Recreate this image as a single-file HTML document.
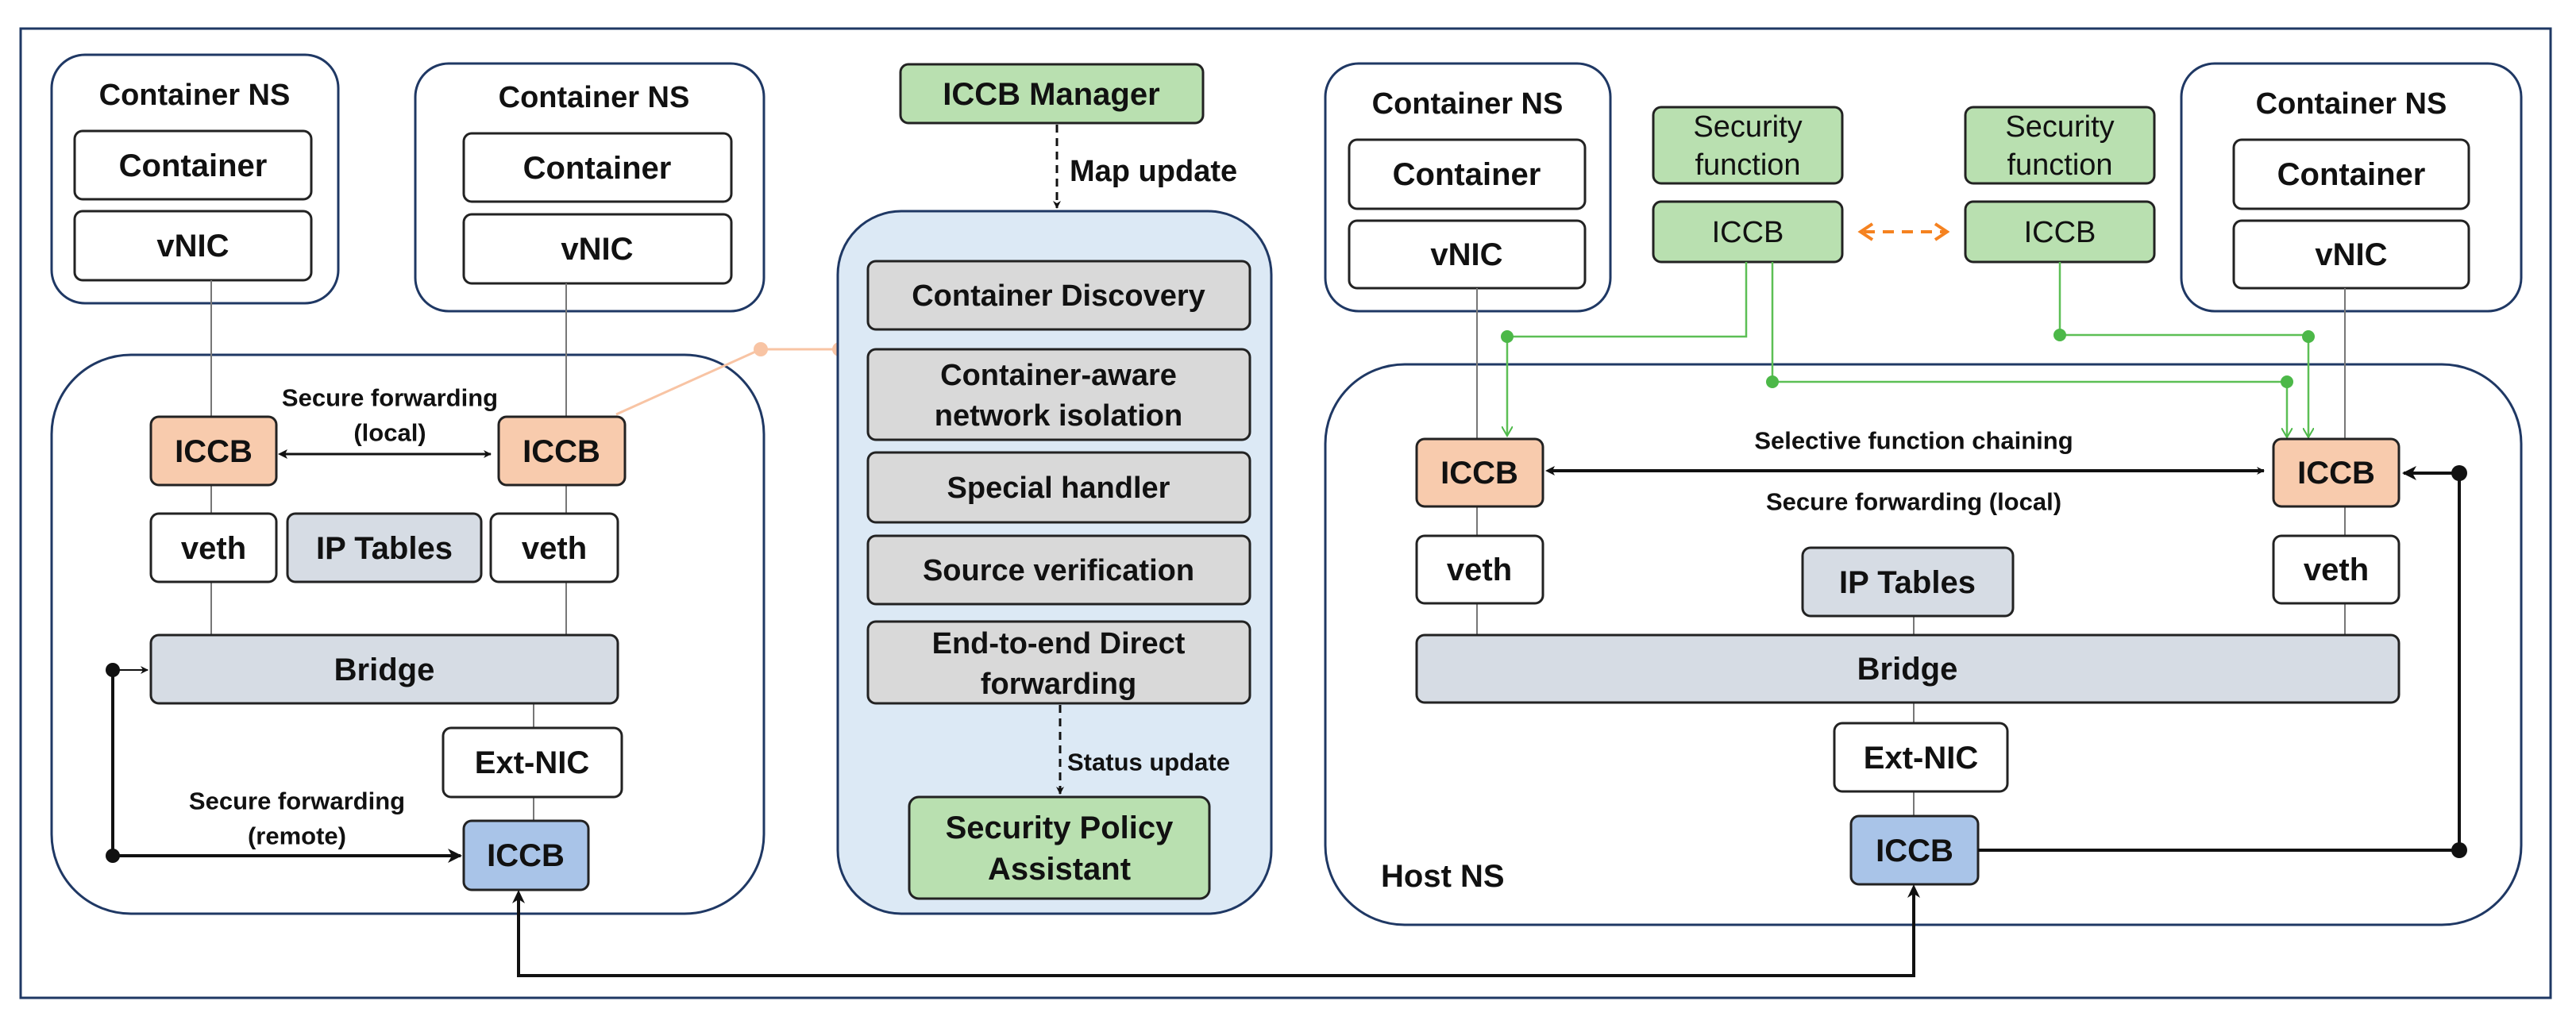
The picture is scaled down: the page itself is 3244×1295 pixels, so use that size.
<!DOCTYPE html>
<html><head><meta charset="utf-8"><style>
html,body{margin:0;padding:0;background:#fff;}
svg{display:block;}
text{font-family:"Liberation Sans","DejaVu Sans",sans-serif;text-anchor:middle;dominant-baseline:central;fill:#111;}
.b{font-weight:bold;}
</style></head><body>
<svg width="3244" height="1295" viewBox="0 0 3244 1295" xmlns="http://www.w3.org/2000/svg">
<defs>
<marker id="ak" markerWidth="10" markerHeight="10" refX="9" refY="5" orient="auto" markerUnits="userSpaceOnUse"><path d="M0,0 L10,5 L0,10 L3,5 z" fill="#111"/></marker>
<marker id="ak2" markerWidth="18" markerHeight="18" refX="16" refY="9" orient="auto" markerUnits="userSpaceOnUse"><path d="M0,0 L18,9 L0,18 L5,9 z" fill="#111"/></marker>
<marker id="ag" markerWidth="14" markerHeight="14" refX="12" refY="7" orient="auto" markerUnits="userSpaceOnUse"><path d="M0,0 L12,7 L0,14" fill="none" stroke="#4cb848" stroke-width="2"/></marker>
<marker id="ao" markerWidth="20" markerHeight="24" refX="17" refY="12" orient="auto" markerUnits="userSpaceOnUse"><path d="M2,2 L17,12 L2,22" fill="none" stroke="#f58220" stroke-width="4"/></marker>
</defs>
<rect x="26" y="36" width="3186" height="1221" fill="none" stroke="#1f3864" stroke-width="3"/>

<rect x="65" y="69" width="361" height="313" rx="42" fill="#fff" stroke="#1f3864" stroke-width="3"/>
<text x="245" y="120" class="b" font-size="38">Container NS</text>
<rect x="94" y="165" width="298" height="86" rx="10" fill="#fff" stroke="#222" stroke-width="3"/>
<text x="243" y="209" class="b" font-size="40">Container</text>
<rect x="94" y="266" width="298" height="87" rx="10" fill="#fff" stroke="#222" stroke-width="3"/>
<text x="243" y="310" class="b" font-size="40">vNIC</text>

<rect x="523" y="80" width="439" height="312" rx="42" fill="#fff" stroke="#1f3864" stroke-width="3"/>
<text x="748" y="123" class="b" font-size="38">Container NS</text>
<rect x="584" y="168" width="337" height="86" rx="10" fill="#fff" stroke="#222" stroke-width="3"/>
<text x="752" y="212" class="b" font-size="40">Container</text>
<rect x="584" y="270" width="337" height="87" rx="10" fill="#fff" stroke="#222" stroke-width="3"/>
<text x="752" y="314" class="b" font-size="40">vNIC</text>

<rect x="65" y="447" width="897" height="704" rx="100" fill="#fff" stroke="#1f3864" stroke-width="3"/>
<line x1="266" y1="353" x2="266" y2="800" stroke="#777" stroke-width="2"/>
<line x1="713" y1="357" x2="713" y2="800" stroke="#777" stroke-width="2"/>
<line x1="672" y1="886" x2="672" y2="1034" stroke="#777" stroke-width="2"/>

<rect x="190" y="525" width="158" height="86" rx="10" fill="#f8cbad" stroke="#222" stroke-width="3"/>
<text x="269" y="569" class="b" font-size="40">ICCB</text>
<rect x="628" y="525" width="159" height="86" rx="10" fill="#f8cbad" stroke="#222" stroke-width="3"/>
<text x="707" y="569" class="b" font-size="40">ICCB</text>
<text x="491" y="501" class="b" font-size="31">Secure forwarding</text>
<text x="491" y="545" class="b" font-size="31">(local)</text>
<line x1="358" y1="572" x2="618" y2="572" stroke="#111" stroke-width="3" marker-end="url(#ak)"/>
<path d="M350,572 L362,566 L359,572 L362,578z" fill="#111"/>

<rect x="190" y="647" width="158" height="86" rx="10" fill="#fff" stroke="#222" stroke-width="3"/>
<text x="269" y="691" class="b" font-size="40">veth</text>
<rect x="362" y="647" width="244" height="86" rx="10" fill="#d6dce4" stroke="#222" stroke-width="3"/>
<text x="484" y="691" class="b" font-size="40">IP Tables</text>
<rect x="618" y="647" width="160" height="86" rx="10" fill="#fff" stroke="#222" stroke-width="3"/>
<text x="698" y="691" class="b" font-size="40">veth</text>

<rect x="190" y="800" width="588" height="86" rx="10" fill="#d6dce4" stroke="#222" stroke-width="3"/>
<text x="484" y="844" class="b" font-size="40">Bridge</text>
<rect x="558" y="917" width="225" height="87" rx="10" fill="#fff" stroke="#222" stroke-width="3"/>
<text x="670" y="961" class="b" font-size="40">Ext-NIC</text>
<rect x="584" y="1034" width="157" height="87" rx="10" fill="#a9c4e8" stroke="#222" stroke-width="3"/>
<text x="662" y="1078" class="b" font-size="40">ICCB</text>

<text x="374" y="1009" class="b" font-size="31">Secure forwarding</text>
<text x="374" y="1053" class="b" font-size="31">(remote)</text>
<polyline points="142,844 142,1078 580,1078" fill="none" stroke="#111" stroke-width="4" marker-end="url(#ak2)"/>
<line x1="142" y1="844" x2="186" y2="844" stroke="#111" stroke-width="2" marker-end="url(#ak)"/>
<circle cx="142" cy="844" r="9" fill="#111"/>
<circle cx="142" cy="1078" r="9" fill="#111"/>

<polyline points="776,522 958,440 1057,440" fill="none" stroke="#f8c4a4" stroke-width="3"/>
<circle cx="958" cy="440" r="9" fill="#f8c4a4"/>
<circle cx="1057" cy="440" r="9" fill="#f8c4a4"/>

<rect x="1134" y="81" width="381" height="74" rx="10" fill="#b9e0b0" stroke="#222" stroke-width="3"/>
<text x="1324" y="119" class="b" font-size="40">ICCB Manager</text>
<line x1="1331" y1="157" x2="1331" y2="262" stroke="#111" stroke-width="3" stroke-dasharray="10,7" marker-end="url(#ak)"/>
<text x="1347" y="216" class="b" font-size="38" style="text-anchor:start">Map update</text>

<rect x="1055" y="266" width="546" height="885" rx="80" fill="#dce9f5" stroke="#1f3864" stroke-width="3"/>
<rect x="1093" y="329" width="481" height="86" rx="10" fill="#d9d9d9" stroke="#222" stroke-width="3"/>
<text x="1333" y="373" class="b" font-size="38">Container Discovery</text>
<rect x="1093" y="440" width="481" height="114" rx="10" fill="#d9d9d9" stroke="#222" stroke-width="3"/>
<text x="1333" y="473" class="b" font-size="38">Container-aware</text>
<text x="1333" y="524" class="b" font-size="38">network isolation</text>
<rect x="1093" y="570" width="481" height="88" rx="10" fill="#d9d9d9" stroke="#222" stroke-width="3"/>
<text x="1333" y="615" class="b" font-size="38">Special handler</text>
<rect x="1093" y="675" width="481" height="86" rx="10" fill="#d9d9d9" stroke="#222" stroke-width="3"/>
<text x="1333" y="719" class="b" font-size="38">Source verification</text>
<rect x="1093" y="783" width="481" height="103" rx="10" fill="#d9d9d9" stroke="#222" stroke-width="3"/>
<text x="1333" y="811" class="b" font-size="38">End-to-end Direct</text>
<text x="1333" y="862" class="b" font-size="38">forwarding</text>
<line x1="1335" y1="888" x2="1335" y2="1000" stroke="#111" stroke-width="3" stroke-dasharray="10,7" marker-end="url(#ak)"/>
<text x="1344" y="960" class="b" font-size="31" style="text-anchor:start">Status update</text>
<rect x="1145" y="1004" width="378" height="128" rx="12" fill="#b9e0b0" stroke="#222" stroke-width="3"/>
<text x="1334" y="1043" class="b" font-size="40">Security Policy</text>
<text x="1334" y="1095" class="b" font-size="40">Assistant</text>

<rect x="1669" y="80" width="359" height="312" rx="42" fill="#fff" stroke="#1f3864" stroke-width="3"/>
<text x="1848" y="131" class="b" font-size="38">Container NS</text>
<rect x="1699" y="176" width="297" height="87" rx="10" fill="#fff" stroke="#222" stroke-width="3"/>
<text x="1847" y="220" class="b" font-size="40">Container</text>
<rect x="1699" y="278" width="297" height="85" rx="10" fill="#fff" stroke="#222" stroke-width="3"/>
<text x="1847" y="321" class="b" font-size="40">vNIC</text>

<rect x="2747" y="80" width="428" height="312" rx="42" fill="#fff" stroke="#1f3864" stroke-width="3"/>
<text x="2961" y="131" class="b" font-size="38">Container NS</text>
<rect x="2813" y="176" width="296" height="87" rx="10" fill="#fff" stroke="#222" stroke-width="3"/>
<text x="2961" y="220" class="b" font-size="40">Container</text>
<rect x="2813" y="278" width="296" height="85" rx="10" fill="#fff" stroke="#222" stroke-width="3"/>
<text x="2961" y="321" class="b" font-size="40">vNIC</text>

<rect x="2082" y="135" width="238" height="96" rx="10" fill="#b9e0b0" stroke="#222" stroke-width="3"/>
<text x="2201" y="160" font-size="38">Security</text>
<text x="2201" y="208" font-size="38">function</text>
<rect x="2082" y="254" width="238" height="76" rx="10" fill="#b9e0b0" stroke="#222" stroke-width="3"/>
<text x="2201" y="293" font-size="38">ICCB</text>
<rect x="2475" y="135" width="238" height="96" rx="10" fill="#b9e0b0" stroke="#222" stroke-width="3"/>
<text x="2594" y="160" font-size="38">Security</text>
<text x="2594" y="208" font-size="38">function</text>
<rect x="2475" y="254" width="238" height="76" rx="10" fill="#b9e0b0" stroke="#222" stroke-width="3"/>
<text x="2594" y="293" font-size="38">ICCB</text>
<line x1="2347" y1="292" x2="2452" y2="292" stroke="#f58220" stroke-width="4" stroke-dasharray="14,10" marker-end="url(#ao)"/>
<path d="M2358,282 L2343,292 L2358,302" fill="none" stroke="#f58220" stroke-width="4"/>

<rect x="1669" y="459" width="1506" height="706" rx="100" fill="#fff" stroke="#1f3864" stroke-width="3"/>
<line x1="1860" y1="363" x2="1860" y2="800" stroke="#777" stroke-width="2"/>
<line x1="2953" y1="363" x2="2953" y2="800" stroke="#777" stroke-width="2"/>
<line x1="2410" y1="776" x2="2410" y2="1028" stroke="#777" stroke-width="2"/>

<g stroke="#5cbf55" stroke-width="2.5" fill="none">
<polyline points="2199,330 2199,424 1898,424 1898,549" marker-end="url(#ag)"/>
<polyline points="2232,330 2232,481 2880,481 2880,551" marker-end="url(#ag)"/>
<polyline points="2594,330 2594,422 2907,422 2907,551" marker-end="url(#ag)"/>
</g>
<g fill="#4cb848">
<circle cx="1898" cy="424" r="8"/><circle cx="2232" cy="481" r="8"/><circle cx="2880" cy="481" r="8"/>
<circle cx="2594" cy="422" r="8"/><circle cx="2907" cy="424" r="8"/>
</g>

<rect x="1784" y="553" width="159" height="85" rx="10" fill="#f8cbad" stroke="#222" stroke-width="3"/>
<text x="1863" y="596" class="b" font-size="40">ICCB</text>
<rect x="2863" y="553" width="158" height="85" rx="10" fill="#f8cbad" stroke="#222" stroke-width="3"/>
<text x="2942" y="596" class="b" font-size="40">ICCB</text>
<text x="2410" y="555" class="b" font-size="31">Selective function chaining</text>
<text x="2410" y="632" class="b" font-size="31">Secure forwarding (local)</text>
<line x1="1955" y1="593" x2="2851" y2="593" stroke="#111" stroke-width="4" marker-end="url(#ak)"/>
<path d="M1946,593 L1958,587 L1955,593 L1958,599z" fill="#111"/>

<rect x="1784" y="675" width="159" height="85" rx="10" fill="#fff" stroke="#222" stroke-width="3"/>
<text x="1863" y="718" class="b" font-size="40">veth</text>
<rect x="2863" y="675" width="158" height="85" rx="10" fill="#fff" stroke="#222" stroke-width="3"/>
<text x="2942" y="718" class="b" font-size="40">veth</text>
<rect x="2270" y="690" width="265" height="86" rx="10" fill="#d6dce4" stroke="#222" stroke-width="3"/>
<text x="2402" y="734" class="b" font-size="40">IP Tables</text>
<rect x="1784" y="800" width="1237" height="85" rx="10" fill="#d6dce4" stroke="#222" stroke-width="3"/>
<text x="2402" y="843" class="b" font-size="40">Bridge</text>
<rect x="2310" y="911" width="218" height="86" rx="10" fill="#fff" stroke="#222" stroke-width="3"/>
<text x="2419" y="955" class="b" font-size="40">Ext-NIC</text>
<rect x="2331" y="1028" width="160" height="86" rx="10" fill="#a9c4e8" stroke="#222" stroke-width="3"/>
<text x="2411" y="1072" class="b" font-size="40">ICCB</text>
<text x="1739" y="1104" class="b" font-size="40" style="text-anchor:start">Host NS</text>

<polyline points="2491,1071 3097,1071 3097,596 3027,596" fill="none" stroke="#111" stroke-width="4" marker-end="url(#ak2)"/>
<circle cx="3097" cy="1071" r="10" fill="#111"/>
<circle cx="3097" cy="596" r="10" fill="#111"/>

<polyline points="653,1127 653,1229 2410,1229 2410,1120" fill="none" stroke="#111" stroke-width="4"/>
<path d="M653,1121 L645,1138 L653,1133 L661,1138z" fill="#111"/>
<path d="M2410,1114 L2402,1131 L2410,1126 L2418,1131z" fill="#111"/>
</svg>
</body></html>
